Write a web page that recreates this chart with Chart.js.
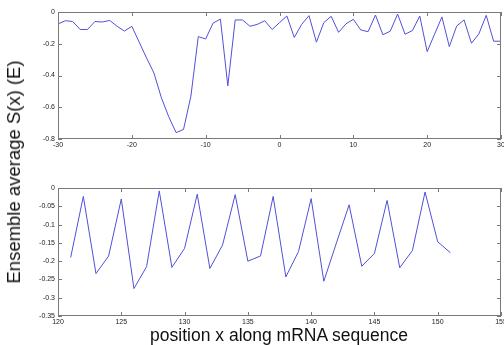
<!DOCTYPE html>
<html>
<head>
<meta charset="utf-8">
<script src="https://cdn.jsdelivr.net/npm/chart.js@4.4.0/dist/chart.umd.min.js"></script>
<style>
html,body{margin:0;padding:0;background:#fff;}
body{width:504px;height:345px;position:relative;overflow:hidden;font-family:"Liberation Sans",Arial,sans-serif;}
.cv{position:absolute;left:0;}
#ylab{position:absolute;left:14px;top:172px;transform:translate(-50%,-50%) rotate(-90deg);white-space:nowrap;font-size:18.5px;color:#111;}
#xlab{position:absolute;left:279px;top:335px;transform:translate(-50%,-50%);white-space:nowrap;font-size:17.5px;color:#111;}
</style>
</head>
<body>
<div class="cv" style="top:0;width:504px;height:160px;"><canvas id="c1"></canvas></div>
<div class="cv" style="top:170px;width:504px;height:160px;"><canvas id="c2"></canvas></div>
<div id="ylab">Ensemble average S(x) (E)</div>
<div id="xlab">position x along mRNA sequence</div>
<script>
// Top panel: positions -30..30
const topPositions = [-30,-29,-28,-27,-26,-25,-24,-23,-22,-21,-20,-19,-18,-17,-16,-15,-14,-13,-12,-11,-10,-9,-8,-7,-6,-5,-4,-3,-2,-1,0,1,2,3,4,5,6,7,8,9,10,11,12,13,14,15,16,17,18,19,20,21,22,23,24,25,26,27,28,29,30];
const topValues = [-0.075,-0.055,-0.06,-0.11,-0.11,-0.06,-0.063,-0.053,-0.09,-0.12,-0.09,-0.19,-0.29,-0.385,-0.54,-0.66,-0.76,-0.74,-0.53,-0.155,-0.17,-0.07,-0.045,-0.465,-0.05,-0.05,-0.09,-0.078,-0.055,-0.11,-0.067,-0.025,-0.16,-0.078,-0.023,-0.19,-0.067,-0.027,-0.128,-0.075,-0.046,-0.113,-0.124,-0.019,-0.143,-0.121,-0.013,-0.14,-0.117,-0.025,-0.25,-0.14,-0.031,-0.218,-0.088,-0.05,-0.197,-0.138,-0.021,-0.184,-0.184];
const topXTicks = [-30,-20,-10,0,10,20,30];
const topYTicks = [0,-0.2,-0.4,-0.6,-0.8];

// Bottom panel: positions 121..151
const bottomPositions = [121,122,123,124,125,126,127,128,129,130,131,132,133,134,135,136,137,138,139,140,141,142,143,144,145,146,147,148,149,150,151];
const bottomValues = [-0.19,-0.023,-0.234,-0.186,-0.03,-0.275,-0.215,-0.008,-0.217,-0.165,-0.017,-0.22,-0.156,-0.018,-0.2,-0.186,-0.023,-0.243,-0.174,-0.029,-0.255,-0.15,-0.046,-0.214,-0.179,-0.034,-0.218,-0.171,-0.011,-0.147,-0.177];
const bottomXTicks = [120,125,130,135,140,145,150,155];
const bottomYTicks = [0,-0.05,-0.1,-0.15,-0.2,-0.25,-0.3,-0.35];

const LINE = '#5050da';
const AXIS = '#7a7a7a';
const FONT = {family:'"Liberation Sans", Arial, sans-serif', size:7};

const boxTicks = {
  id:'boxTicks',
  afterDatasetsDraw(chart){
    const {ctx, chartArea:a, scales:{x,y}} = chart;
    ctx.save();
    ctx.strokeStyle = AXIS; ctx.lineWidth = 1;
    ctx.strokeRect(Math.round(a.left)+0.5, Math.round(a.top)+0.5, Math.round(a.right-a.left)-1, Math.round(a.bottom-a.top)-1);
    const L = 4;
    ctx.beginPath();
    x.ticks.forEach(t=>{
      const px = Math.round(x.getPixelForValue(t.value))+0.5;
      ctx.moveTo(px,a.bottom); ctx.lineTo(px,a.bottom-L);
      ctx.moveTo(px,a.top); ctx.lineTo(px,a.top+L);
    });
    y.ticks.forEach(t=>{
      const py = Math.round(y.getPixelForValue(t.value))+0.5;
      ctx.moveTo(a.left,py); ctx.lineTo(a.left+L,py);
      ctx.moveTo(a.right,py); ctx.lineTo(a.right-L,py);
    });
    ctx.stroke();
    ctx.restore();
  }
};

function fmt(v){ return String(Number(v.toFixed(2))); }

function makeChart(id, xs, ys, xTicks, yTicks, padTop, xH){
  const data = xs.map((x,i)=>({x:x, y:ys[i]}));
  return new Chart(document.getElementById(id), {
    type:'line',
    data:{datasets:[{data:data, borderColor:LINE, borderWidth:1, pointRadius:0, tension:0, fill:false}]},
    options:{
      responsive:true, maintainAspectRatio:false, animation:false,
      devicePixelRatio:1,
      layout:{padding:{top:padTop, right:3, bottom:0, left:0}},
      plugins:{legend:{display:false}, tooltip:{enabled:false}},
      scales:{
        x:{type:'linear', min:xTicks[0], max:xTicks[xTicks.length-1],
           afterBuildTicks(s){ s.ticks = xTicks.map(v=>({value:v})); },
           afterFit(s){ s.height = xH; s.paddingLeft = 0; s.paddingRight = 0; },
           grid:{display:false, drawTicks:false}, border:{display:false},
           ticks:{font:FONT, color:'#222', padding:2, maxRotation:0, autoSkip:false, callback:(v)=>fmt(v)}},
        y:{type:'linear', min:yTicks[yTicks.length-1], max:yTicks[0],
           afterBuildTicks(s){ s.ticks = yTicks.slice().reverse().map(v=>({value:v})); },
           afterFit(s){ s.width = 58; s.paddingTop = 0; s.paddingBottom = 0; },
           grid:{display:false, drawTicks:false}, border:{display:false},
           ticks:{font:FONT, color:'#222', padding:3, autoSkip:false, callback:(v)=>fmt(v)}}
      }
    },
    plugins:[boxTicks]
  });
}

makeChart('c1', topPositions, topValues, topXTicks, topYTicks, 12, 21);
makeChart('c2', bottomPositions, bottomValues, bottomXTicks, bottomYTicks, 18, 14);
</script>
</body>
</html>
